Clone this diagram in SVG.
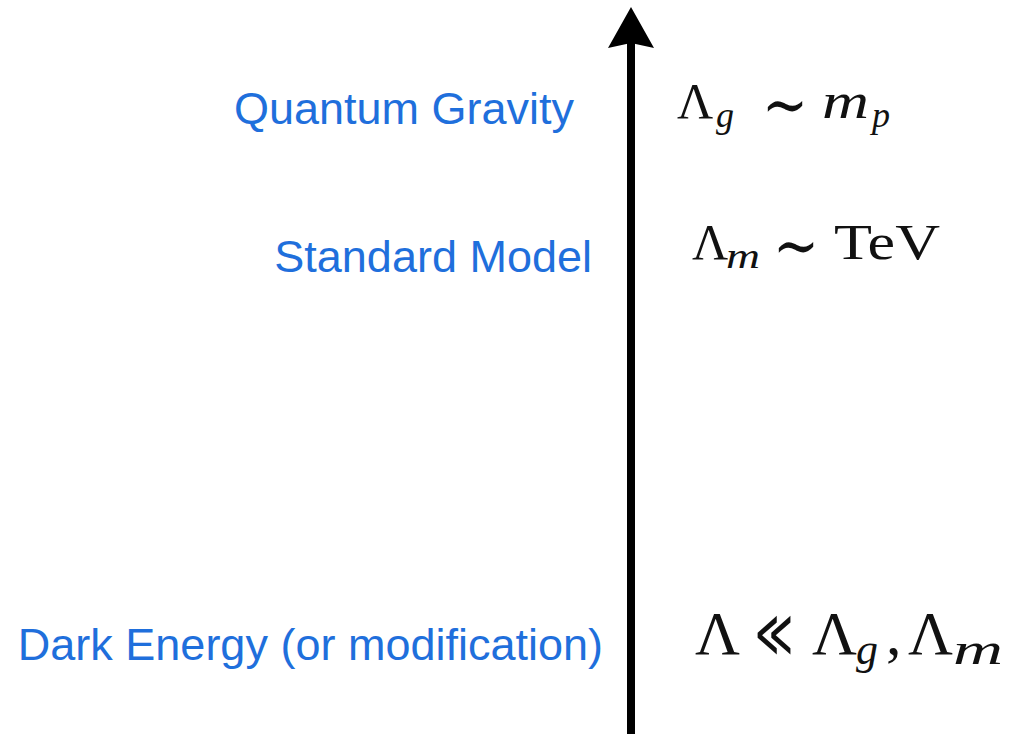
<svg xmlns="http://www.w3.org/2000/svg" width="1025" height="734" viewBox="0 0 1025 734">
<style>
.lbl{font-family:"Liberation Sans",Arial,sans-serif;font-size:45px;fill:#1f6fdc;text-anchor:end}
.m{font-family:"Liberation Serif","Times New Roman",serif;font-size:50px;fill:#111}
.r{font-family:"DejaVu Serif","Liberation Serif",serif;font-size:66px;fill:#111}
.i{font-style:italic}
.s{font-size:36px;font-style:italic}
.b{font-size:62px}
.bs{font-size:44px;font-style:italic}
</style>
<rect width="1025" height="734" fill="#fff"/>
<g id="connectors">
<line x1="631" y1="734" x2="631" y2="40" stroke="#000" stroke-width="8"/>
<polygon points="631,7 654,48 631,43 608,48" fill="#000"/>
</g>
<g id="quantum-gravity">
<text class="lbl" x="574" y="124">Quantum Gravity</text>
<text class="m" x="677" y="118">Λ</text>
<text class="m s" x="716" y="127">g</text>
<text class="r" x="762" y="127" textLength="46" lengthAdjust="spacingAndGlyphs">∼</text>
<text class="m i" x="822" y="118" font-size="54" textLength="47" lengthAdjust="spacingAndGlyphs">m</text>
<text class="m s" x="872" y="127">p</text>
</g>
<g id="standard-model">
<text class="lbl" x="592" y="272">Standard Model</text>
<text class="m" x="692" y="259">Λ</text>
<text class="m s" x="726" y="268" textLength="34" lengthAdjust="spacingAndGlyphs">m</text>
<text class="r" x="773" y="268" textLength="46" lengthAdjust="spacingAndGlyphs">∼</text>
<text class="m" x="834" y="259" textLength="106" lengthAdjust="spacingAndGlyphs">TeV</text>
</g>
<g id="dark-energy">
<text class="lbl" x="603" y="660">Dark Energy (or modification)</text>
<text class="m b" x="695" y="654">Λ</text>
<text class="r" x="755" y="656" font-size="64" textLength="38" lengthAdjust="spacingAndGlyphs">≪</text>
<text class="m b" x="812" y="654">Λ</text>
<text class="m bs" x="856" y="664">g</text>
<text class="m b" x="886" y="654">,</text>
<text class="m b" x="908" y="654">Λ</text>
<text class="m bs" x="953" y="664" textLength="50" lengthAdjust="spacingAndGlyphs">m</text>
</g>
</svg>
